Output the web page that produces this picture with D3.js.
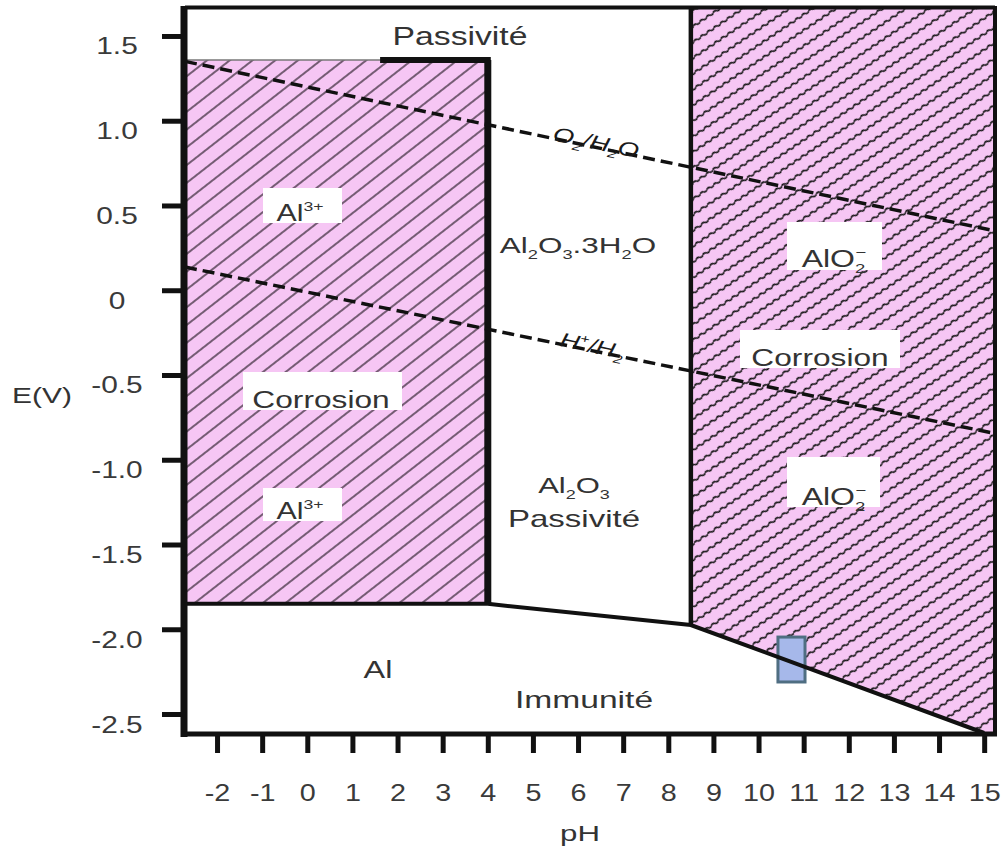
<!DOCTYPE html>
<html><head><meta charset="utf-8">
<script src="https://cdn.jsdelivr.net/npm/d3@7"></script>
<style>body{margin:0;background:#fff}svg{display:block}</style>
</head><body><svg id="c" width="1004" height="850"></svg>
<script>
// ---- data ----
const phTicks = [-2,-1,0,1,2,3,4,5,6,7,8,9,10,11,12,13,14,15];
const phTickLabels = ["-2","-1","0","1","2","3","4","5","6","7","8","9","10","11","12","13","14","15"];
const eTicks = [1.5,1.0,0.5,0,-0.5,-1.0,-1.5,-2.0,-2.5];
const eTickLabels = ["1.5","1.0","0.5","0","-0.5","-1.0","-1.5","-2.0","-2.5"];
const phDomain = [-2.71, 15.24];
const eDomain = [1.665, -2.612];
// Al3+ corrosion domain (pH, E)
const al3Region = [[-2.71,1.358],[4,1.358],[4,-1.85],[-2.71,-1.85]];
// AlO2- corrosion domain
const alo2Region = [[8.5,1.665],[15.24,1.665],[15.24,-2.612],[15.0,-2.612],[8.5,-1.975]];
// boundaries
const al3TopThick = [[1.68,1.358],[4,1.358]];
const al3TopThin = [[-2.71,1.358],[1.68,1.358]];
const al3Right = [[4,1.358],[4,-1.85]];
const alo2Left = [[8.5,1.665],[8.5,-1.975]];
const immunityBoundary = [[-2.71,-1.85],[4,-1.85],[8.5,-1.975],[15.0,-2.612]];
// water stability lines
const o2Line = [[-2.71,1.35],[15.24,0.35]];
const h2Line = [[-2.71,0.137],[15.24,-0.845]];
// marker (small blue rectangle)
const marker = [[10.43,-2.046],[11.03,-2.311]];

// ---- scales ----
const svg = d3.select("#c");
const x = d3.scaleLinear().domain(phDomain).range([185, 995]);
const y = d3.scaleLinear().domain(eDomain).range([8, 733]);
const FONT = "'Liberation Sans', Arial, sans-serif";

// ---- patterns ----
const defs = svg.append("defs");
const pA = defs.append("pattern").attr("id","hatchA").attr("patternUnits","userSpaceOnUse")
  .attr("width",20).attr("height",14).attr("patternTransform","rotate(-38)");
pA.append("rect").attr("width",20).attr("height",14).attr("fill","#f6c6f4");
pA.append("line").attr("x1",0).attr("x2",20).attr("y1",7).attr("y2",7)
  .attr("stroke","#2e222e").attr("stroke-width",1.3);
const pB = defs.append("pattern").attr("id","hatchB").attr("patternUnits","userSpaceOnUse")
  .attr("width",8).attr("height",13).attr("patternTransform","rotate(-34)");
pB.append("rect").attr("width",8).attr("height",13).attr("fill","#f6c6f4");
pB.append("path").attr("d","M0,6.5 Q2,4.6 4,6.5 T8,6.5").attr("fill","none")
  .attr("stroke","#111").attr("stroke-width",1.7);

const line = d3.line().x(d => x(d[0])).y(d => y(d[1]));

// ---- regions ----
svg.append("path").attr("d", line(al3Region) + "Z").attr("fill","url(#hatchA)");
svg.append("path").attr("d", line(alo2Region) + "Z").attr("fill","url(#hatchB)");

// ---- text helper ----
function label(cx, by, parts, size, sx, fill) {
  const t = svg.append("text")
    .attr("transform", `translate(${cx},${by}) scale(${sx},1)`)
    .attr("text-anchor","middle")
    .attr("font-family", FONT).attr("font-size", size)
    .attr("fill", fill || "#333");
  let shift = 0;
  parts.forEach(p => {
    const [s, kind, extra] = typeof p === "string" ? [p, null] : p;
    let target = 0;
    let fs = size;
    if (kind === "sub") { target = size*0.28; fs = size*0.58; }
    if (kind === "sup") { target = -size*0.42; fs = size*0.58; }
    const ts = t.append("tspan").attr("font-size", fs).attr("dy", target - shift).text(s);
    if (extra) ts.attr("dx", extra);
    shift = target;
  });
  return t;
}
function box(x0, y0, x1, y1) {
  svg.append("rect").attr("x",x0).attr("y",y0).attr("width",x1-x0).attr("height",y1-y0)
    .attr("fill","#fff");
}

// label boxes
box(263,188,342,223); box(243,372,402,410); box(263,488,342,521);
box(787,222,882,270); box(740,330,900,368); box(787,457,880,507);

// ---- marker ----
svg.append("rect")
  .attr("x", x(marker[0][0])).attr("y", y(marker[0][1]))
  .attr("width", x(marker[1][0]) - x(marker[0][0]))
  .attr("height", y(marker[1][1]) - y(marker[0][1]))
  .attr("fill","#a6b8ea").attr("stroke","#4f6e82").attr("stroke-width",3);

// ---- boundaries ----
svg.append("path").attr("d", line(al3TopThin)).attr("stroke","#777").attr("stroke-width",1.5).attr("fill","none");
svg.append("path").attr("d", line(al3TopThick)).attr("stroke","#111").attr("stroke-width",6).attr("fill","none").attr("stroke-linecap","square");
svg.append("path").attr("d", line(al3Right)).attr("stroke","#111").attr("stroke-width",7).attr("fill","none");
svg.append("path").attr("d", line(alo2Left)).attr("stroke","#111").attr("stroke-width",4.5).attr("fill","none");
svg.append("path").attr("d", line(immunityBoundary)).attr("stroke","#111").attr("stroke-width",4).attr("fill","none");

// water lines
[o2Line, h2Line].forEach(l => {
  svg.append("path").attr("d", line(l)).attr("stroke","#111").attr("stroke-width",3.5)
    .attr("stroke-dasharray","12,6").attr("fill","none");
});

// ---- frame ----
svg.append("line").attr("x1",185).attr("x2",995).attr("y1",7.5).attr("y2",7.5).attr("stroke","#111").attr("stroke-width",4);
svg.append("line").attr("x1",995).attr("x2",995).attr("y1",6).attr("y2",735).attr("stroke","#111").attr("stroke-width",4);

// ---- axes ----
const yAxis = d3.axisLeft(y).tickValues(eTicks).tickFormat((d,i) => eTickLabels[i]).tickSize(22);
const gy = svg.append("g").attr("transform","translate(184,0)").call(yAxis);
gy.select(".domain").remove();
gy.selectAll(".tick line").attr("stroke","#111").attr("stroke-width",5);
gy.selectAll(".tick text").attr("x",null).attr("dy",null).attr("text-anchor","middle")
  .attr("transform","translate(-67,18) scale(1.3,1)")
  .attr("font-family",FONT).attr("font-size",23).attr("fill","#3a3a3a");
svg.append("line").attr("x1",184).attr("x2",184).attr("y1",6).attr("y2",737).attr("stroke","#111").attr("stroke-width",7);

const xAxis = d3.axisBottom(x).tickValues(phTicks).tickFormat((d,i) => phTickLabels[i]).tickSize(19);
const gx = svg.append("g").attr("transform","translate(0,734)").call(xAxis);
gx.select(".domain").remove();
gx.selectAll(".tick line").attr("stroke","#111").attr("stroke-width",5);
gx.selectAll(".tick text").attr("y",null).attr("dy",null).attr("text-anchor","middle")
  .attr("transform","translate(0,67) scale(1.25,1)")
  .attr("font-family",FONT).attr("font-size",23).attr("fill","#3a3a3a");
svg.append("line").attr("x1",181).attr("x2",997).attr("y1",734).attr("y2",734).attr("stroke","#111").attr("stroke-width",5);

// ---- labels ----
label(460, 45, ["Passivité"], 25, 1.35);
label(578, 253, ["Al",["2","sub"],"O",["3","sub"],".3H",["2","sub"],"O"], 22, 1.43);
label(574, 493, ["Al",["2","sub"],"O",["3","sub"]], 22, 1.41);
label(574, 527, ["Passivité"], 24, 1.375);
label(300, 221, ["Al",["3+","sup"]], 23, 1.32);
label(300, 519, ["Al",["3+","sup"]], 23, 1.32);
label(321, 408, ["Corrosion"], 24, 1.32);
label(820, 366, ["Corrosion"], 24, 1.32);
label(834, 267, ["AlO",["2","sub"],["−","sup",-7]], 23, 1.39);
label(834, 505, ["AlO",["2","sub"],["−","sup",-7]], 23, 1.39);
label(378, 678, ["Al"], 24, 1.35);
label(584, 708, ["Immunité"], 24, 1.4);
label(42, 403, ["E(V)"], 22, 1.36);
label(580, 841, ["pH"], 22, 1.42);

// water line labels, along the lines
const angO = Math.atan2(y(o2Line[1][1]) - y(o2Line[0][1]), x(o2Line[1][0]) - x(o2Line[0][0])) * 180 / Math.PI;
function lineLabel(l, ph, parts, width) {
  const px = x(ph);
  const t = (ph - l[0][0]) / (l[1][0] - l[0][0]);
  const py = y(l[0][1] + t * (l[1][1] - l[0][1]));
  const g = svg.append("g").attr("transform", `translate(${px},${py}) rotate(${angO})`);
  const tx = g.append("text").attr("text-anchor","middle").attr("font-family",FONT)
    .attr("font-size",20).attr("font-style","italic").attr("fill","#1a1a1a")
    .attr("transform","translate(0,2) scale(1.35,1)");
  let shift = 0;
  parts.forEach(p => {
    const [s, kind] = typeof p === "string" ? [p, null] : p;
    let target = 0, fs = 20;
    if (kind === "sub") { target = 5; fs = 12; }
    if (kind === "sup") { target = -8; fs = 12; }
    tx.append("tspan").attr("font-size", fs).attr("dy", target - shift).text(s);
    shift = target;
  });
}
lineLabel(o2Line, -2 + (595-217)/45.12, ["O",["2","sub"],"/H",["2","sub"],"O"]);
lineLabel(h2Line, -2 + (591-217)/45.12, ["H",["+","sup"],"/H",["2","sub"]]);
</script></body></html>
